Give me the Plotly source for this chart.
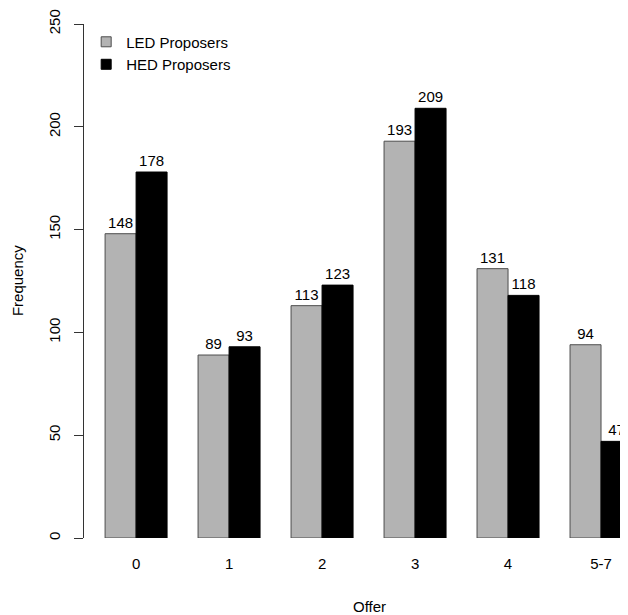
import plotly.graph_objects as go

categories = ["0", "1", "2", "3", "4", "5-7"]
led_values = [148, 89, 113, 193, 131, 94]
hed_values = [178, 93, 123, 209, 118, 47]
y_ticks = [0, 50, 100, 150, 200, 250]

# R barplot(beside=TRUE) layout: bar width 1, one bar gap between groups
n = len(categories)
led_x = [1.5 + 3 * i for i in range(n)]
hed_x = [2.5 + 3 * i for i in range(n)]
grp_x = [2.0 + 3 * i for i in range(n)]

FONT = "Liberation Sans, Arial, Helvetica, sans-serif"
FS = 15
LED_COLOR = "#B3B3B3"
LED_EDGE = "#4d4d4d"

fig = go.Figure()
fig.add_trace(go.Bar(
    x=led_x, y=led_values, width=1, name="LED Proposers", showlegend=False,
    marker=dict(color=LED_COLOR, line=dict(color=LED_EDGE, width=1)),
    text=[str(v) for v in led_values], textposition="outside",
    textfont=dict(size=FS, color="black", family=FONT), cliponaxis=False,
))
fig.add_trace(go.Bar(
    x=hed_x, y=hed_values, width=1, name="HED Proposers", showlegend=False,
    marker=dict(color="black", line=dict(color="black", width=1)),
    text=[str(v) for v in hed_values], textposition="outside",
    textfont=dict(size=FS, color="black", family=FONT), cliponaxis=False,
))
# legend entries (small squares like R's legend(fill=...))
fig.add_trace(go.Scatter(
    x=[None], y=[None], mode="markers", name="LED Proposers",
    marker=dict(symbol="square", size=10, color=LED_COLOR,
                line=dict(color=LED_EDGE, width=1)),
))
fig.add_trace(go.Scatter(
    x=[None], y=[None], mode="markers", name="HED Proposers",
    marker=dict(symbol="square", size=10, color="black",
                line=dict(color="black", width=1)),
))

fig.update_layout(
    width=620, height=607,
    margin=dict(l=76, r=0, t=16, b=77),
    barmode="overlay",
    plot_bgcolor="white", paper_bgcolor="white",
    font=dict(family=FONT, size=FS, color="black"),
    showlegend=True,
    legend=dict(x=0.004, y=0.997, xanchor="left", yanchor="top",
                bgcolor="rgba(0,0,0,0)", font=dict(size=FS),
                tracegroupgap=0),
    xaxis=dict(range=[0.32, 17.87], tickvals=grp_x, ticktext=categories,
               showline=False, showgrid=False, zeroline=False, ticks="",
               ticklabelstandoff=15, tickfont=dict(size=FS)),
    yaxis=dict(range=[0, 250], tickvals=y_ticks, showline=True,
               linecolor="#333333", linewidth=1, ticks="outside", ticklen=9,
               tickcolor="#333333", showgrid=False, zeroline=False,
               tickangle=-90, tickfont=dict(size=FS), ticklabelstandoff=8),
    annotations=[
        dict(text="Frequency", xref="paper", yref="paper", x=-0.123, y=0.5,
             textangle=-90, showarrow=False, xanchor="center", yanchor="middle",
             font=dict(size=FS)),
        dict(text="Offer", xref="paper", yref="paper", x=0.525, y=-0.133,
             showarrow=False, xanchor="center", yanchor="middle",
             font=dict(size=FS)),
    ],
)

fig.write_html("out.html")
